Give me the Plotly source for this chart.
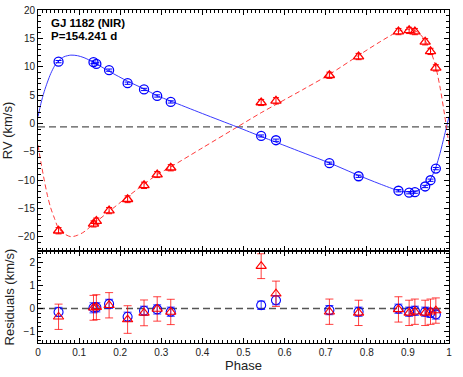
import plotly.graph_objects as go

# ---------------- data ----------------
PHASE = [0.050, 0.135, 0.142, 0.173, 0.218, 0.258, 0.290, 0.323, 0.543, 0.579,
         0.709, 0.780, 0.877, 0.903, 0.917, 0.942, 0.955, 0.968]
RV_A = [10.9, 10.8, 10.5, 9.4, 7.1, 6.0, 4.85, 3.8, -2.2, -2.95,
        -7.0, -9.3, -11.85, -12.2, -12.1, -11.1, -10.0, -7.95]
RV_B = [-18.9, -17.7, -17.2, -15.35, -13.35, -10.9, -9.0, -7.8, 3.7, 4.0,
        8.5, 11.8, 16.2, 16.4, 16.2, 14.4, 12.7, 9.8]
ERR_A = [0.2, 0.22, 0.2, 0.2, 0.2, 0.2, 0.2, 0.2, 0.18, 0.2,
         0.2, 0.2, 0.2, 0.2, 0.2, 0.2, 0.2, 0.2]
ERR_B = [0.55, 0.54, 0.54, 0.55, 0.6, 0.56, 0.53, 0.55, 0.54, 0.55,
         0.55, 0.55, 0.55, 0.55, 0.55, 0.55, 0.55, 0.55]
RES_A = [-0.15, 0.03, 0.05, 0.20, -0.36, -0.10, -0.04, -0.14, 0.14, 0.36,
         -0.07, -0.14, -0.01, -0.14, -0.10, -0.14, -0.19, -0.26]
RES_B = [-0.36, 0.03, 0.06, 0.14, -0.48, -0.19, -0.02, -0.15, 1.84, 0.64,
         -0.14, -0.19, -0.04, -0.19, -0.14, -0.19, -0.14, -0.09]

# orbital fit curves
CURVE_PHASE = [0.0, 0.007, 0.015, 0.023, 0.031, 0.04, 0.05, 0.063, 0.08, 0.096,
               0.112, 0.135, 0.173, 0.218, 0.258, 0.29, 0.323, 0.4, 0.484, 0.543,
               0.579, 0.65, 0.709, 0.78, 0.83, 0.877, 0.89, 0.903, 0.917, 0.93,
               0.942, 0.955, 0.968, 0.978, 0.989, 1.0]
CURVE_A = [1.2, 3.5, 5.6, 7.3, 8.8, 10.1, 11.05, 11.75, 12.05, 11.95,
           11.6, 10.8, 9.2, 7.45, 6.1, 4.9, 3.95, 1.75, -0.6, -2.3,
           -3.3, -5.3, -6.95, -9.15, -10.6, -11.84, -12.0, -12.06, -12.0, -11.6,
           -10.96, -9.81, -7.7, -5.3, -2.1, 1.2]
CURVE_B = [-3.8, -6.8, -9.9, -12.7, -14.9, -16.7, -18.5, -19.4, -19.95, -19.7,
           -19.1, -17.7, -15.5, -12.9, -10.7, -9.0, -7.65, -4.3, -0.65, 1.9,
           3.35, 6.2, 8.65, 12.0, 14.3, 16.25, 16.5, 16.6, 16.35, 15.7,
           14.6, 12.85, 9.9, 6.45, 1.65, -3.8]

GAMMA = -0.6
TITLE_1 = "GJ 1182 (NIR)"
TITLE_2 = "P=154.241 d"

BLUE = "#0000ff"
RED = "#ff0000"
FONT = "Liberation Sans, Arial, Helvetica, sans-serif"

fig = go.Figure()

# ---------- top panel ----------
fig.add_trace(go.Scatter(x=CURVE_PHASE, y=CURVE_A, mode="lines",
                         line=dict(color="#3a3aff", width=1, shape="spline", smoothing=0.8),
                         xaxis="x2", yaxis="y2", hoverinfo="skip"))
fig.add_trace(go.Scatter(x=CURVE_PHASE, y=CURVE_B, mode="lines",
                         line=dict(color="#ff3a3a", width=1, shape="spline", smoothing=0.8,
                                   dash="5px,3px"),
                         xaxis="x2", yaxis="y2", hoverinfo="skip"))
fig.add_trace(go.Scatter(x=PHASE, y=RV_A, mode="markers",
                         marker=dict(symbol="circle-open", size=9, color=BLUE,
                                     line=dict(width=1.3, color=BLUE)),
                         error_y=dict(type="data", array=ERR_A, color=BLUE,
                                      thickness=1, width=3),
                         xaxis="x2", yaxis="y2"))
fig.add_trace(go.Scatter(x=PHASE, y=RV_B, mode="markers",
                         marker=dict(symbol="triangle-up-open", size=9, color=RED,
                                     line=dict(width=1.3, color=RED)),
                         error_y=dict(type="data", array=ERR_B, color=RED,
                                      thickness=1, width=3),
                         xaxis="x2", yaxis="y2"))

# ---------- residual panel ----------
fig.add_trace(go.Scatter(x=PHASE, y=RES_A, mode="markers",
                         marker=dict(symbol="circle-open", size=9, color=BLUE,
                                     line=dict(width=1.1, color=BLUE)),
                         error_y=dict(type="data", array=ERR_A, color="rgba(0,0,255,0.75)",
                                      thickness=1, width=4),
                         xaxis="x", yaxis="y"))
fig.add_trace(go.Scatter(x=PHASE, y=RES_B, mode="markers",
                         marker=dict(symbol="triangle-up-open", size=9, color=RED,
                                     line=dict(width=1.1, color=RED)),
                         error_y=dict(type="data", array=ERR_B, color="rgba(255,0,0,0.75)",
                                      thickness=1, width=4),
                         xaxis="x", yaxis="y"))

# dashed reference lines
fig.add_shape(type="line", xref="x2 domain", yref="y2", x0=0, x1=1, y0=GAMMA, y1=GAMMA,
              line=dict(color="#555555", width=1.3, dash="7px,4px"), layer="below")
fig.add_shape(type="line", xref="x domain", yref="y", x0=0, x1=1, y0=0, y1=0,
              line=dict(color="#555555", width=1.3, dash="7px,4px"), layer="below")

axis_common = dict(showline=True, linecolor="black", linewidth=1, mirror="allticks",
                   ticks="inside", tickcolor="black", showgrid=False, zeroline=False,
                   automargin=False, ticklabeloverflow="allow",
                   tickfont=dict(family=FONT, size=10, color="#222222"))

fig.update_layout(
    width=463, height=377,
    margin=dict(l=38, r=14, t=10, b=34),
    paper_bgcolor="white", plot_bgcolor="white",
    showlegend=False,
    font=dict(family=FONT, color="#222222"),
    xaxis=dict(domain=[0, 1], range=[0, 1], dtick=0.1, ticklen=5,
               minor=dict(dtick=0.01, ticklen=3, ticks="inside", tickcolor="black"),
               title=dict(text="Phase", font=dict(family=FONT, size=13, color="#222222"),
                          standoff=2),
               anchor="y", **axis_common),
    yaxis=dict(domain=[0, 0.2763], range=[-1.5, 2.5], dtick=1, ticklen=5,
               minor=dict(dtick=0.2, ticklen=3, ticks="inside", tickcolor="black"),
               title=dict(text="Residuals (km/s)", font=dict(family=FONT, size=13, color="#222222"),
                          standoff=6),
               anchor="x", **axis_common),
    xaxis2=dict(domain=[0, 1], range=[0, 1], dtick=0.1, ticklen=5, showticklabels=False,
                minor=dict(dtick=0.01, ticklen=3, ticks="inside", tickcolor="black"),
                anchor="y2", matches="x", **axis_common),
    yaxis2=dict(domain=[0.2763, 1], range=[-22.47, 20.001], dtick=5, ticklen=5,
                minor=dict(dtick=1, ticklen=3, ticks="inside", tickcolor="black"),
                title=dict(text="RV (km/s)", font=dict(family=FONT, size=13, color="#222222"),
                           standoff=6),
                anchor="x2", **axis_common),
)

fig.add_annotation(xref="x2 domain", yref="y2 domain", x=0.0268, y=0.946,
                   xanchor="left", yanchor="middle", showarrow=False,
                   text="<b>" + TITLE_1 + "</b>",
                   font=dict(family=FONT, size=11.5, color="black"))
fig.add_annotation(xref="x2 domain", yref="y2 domain", x=0.0268, y=0.891,
                   xanchor="left", yanchor="middle", showarrow=False,
                   text="<b>" + TITLE_2 + "</b>",
                   font=dict(family=FONT, size=11.5, color="black"))

fig.write_html("out.html",
               config={"displayModeBar": False},
               post_script="document.body.style.margin='0px';document.body.style.overflow='hidden';")
